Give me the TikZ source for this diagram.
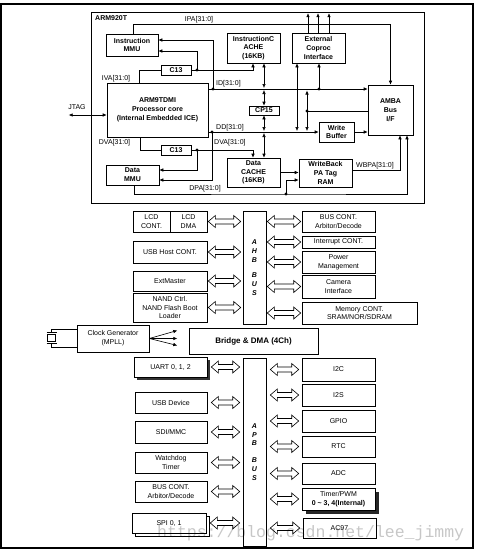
\documentclass[tikz,border=0pt]{standalone}
\usepackage{fontspec}
\setmainfont{Liberation Sans}
\newfontfamily\wmfont{Liberation Mono}
\usetikzlibrary{arrows.meta,calc,shadows}
\newcommand\bx[7][box]{\node[#1, minimum width={(#5-#3)*1pt}, minimum height={(#6-#4)*1pt}] (#2) at ({(#3+#5)/2},{(#4+#6)/2}) {#7};}
\newcommand\jdot[2]{\coordinate (#1) at (#2); \fill (#1) circle (1.6pt);}
% fat hollow double arrow: from x1 to x2 at height yy (canvas dimensions)
\newcommand\fatpoly[3]{\draw[fatarr] (#1,#3) -- (#1+7pt,#3+6pt) -- (#1+7pt,#3+2.5pt) -- (#2-7pt,#3+2.5pt) -- (#2-7pt,#3+6pt) -- (#2,#3) -- (#2-7pt,#3-6pt) -- (#2-7pt,#3-2.5pt) -- (#1+7pt,#3-2.5pt) -- (#1+7pt,#3-6pt) -- cycle;}
% left: node anchor #1 to bar anchor #2, y of #1
\newcommand\fatL[4]{\path let \p1=(#1), \p2=(#2) in \pgfextra{\xdef\fxa{\x1+#3pt}\xdef\fxb{\x2-#4pt}\xdef\fy{\y1}};\fatpoly{\fxa}{\fxb}{\fy}}
% right: bar anchor #1 to node anchor #2, y of #2
\newcommand\fatR[4]{\path let \p1=(#1), \p2=(#2) in \pgfextra{\xdef\fxa{\x1+#3pt}\xdef\fxb{\x2-#4pt}\xdef\fy{\y2}};\fatpoly{\fxa}{\fxb}{\fy}}
\begin{document}
\begin{tikzpicture}[x=1pt,y=-1pt,
 box/.style={draw, fill=white, line width=0.6pt, inner sep=0pt, align=center, font=\fontsize{7}{8.8}\selectfont},
 cbox/.style={box, font=\fontsize{7}{8.8}\selectfont\bfseries},
 busbar/.style={box, font=\fontsize{7}{9}\selectfont\bfseries\itshape},
 lbl/.style={inner sep=0pt, font=\fontsize{7}{8}\selectfont},
 ln/.style={line width=0.6pt},
 arr/.style={ln, -{Latex[length=4pt,width=3.6pt]}},
 darr/.style={ln, {Latex[length=4pt,width=3.6pt]}-{Latex[length=4pt,width=3.6pt]}},
 fatarr/.style={draw, fill=white, line width=0.6pt, line join=miter},
 shad/.style={drop shadow={shadow xshift=2.5pt, shadow yshift=-2.5pt, opacity=1, fill=black!80}}
]
\useasboundingbox (0,0) rectangle (478,552);
\draw[line width=1.2pt] (1,4) rectangle (473,548);

% ---------------- ARM920T block
\bx{arm920}{91}{12}{424}{203}{}
\node[lbl, font=\fontsize{7}{8}\selectfont\bfseries, anchor=west] (armlbl) at (95,18) {ARM920T};
\bx[cbox]{immu}{106}{34}{158}{56}{Instruction\\MMU}
\bx[cbox]{icache}{227}{33}{280}{63}{InstructionC\\ACHE\\(16KB)}
\bx[cbox]{ecop}{292}{33}{345}{63}{External\\Coproc\\Interface}
\bx[cbox]{c13a}{161}{65}{191}{75}{C13}
\bx[cbox]{arm9}{107}{83}{208}{137}{ARM9TDMI\\Processor core\\(Internal Embedded ICE)}
\bx[cbox]{cp15}{249}{106}{279}{115}{CP15}
\bx[cbox]{amba}{368}{85}{413}{135}{AMBA\\Bus\\I/F}
\bx[cbox]{wbuf}{319}{122}{354}{142}{Write\\Buffer}
\bx[cbox]{c13b}{161}{145}{191}{155}{C13}
\bx[cbox]{dmmu}{106}{165}{159}{185}{Data\\MMU}
\bx[cbox]{dcache}{227}{158}{280}{187}{Data\\CACHE\\(16KB)}
\bx[cbox]{wbram}{299}{159}{352}{187}{WriteBack\\PA Tag\\RAM}

\coordinate (idy) at (0,89);
\coordinate (ddy) at (0,132);

% IPA
\draw[arr] ($(immu.north)+(1,0)$) -- ++(0,-9) -| (amba.north);
\node[lbl] (ipa) at (199,20) {IPA[31:0]};
% coprocessor outputs
\draw[arr] ($(ecop.north)+(-10.5,0)$) -- ++(0,-19.5);
\draw[arr] ($(ecop.north)+(-0.5,0)$) -- ++(0,-19.5);
\draw[arr] ($(ecop.north)+(10.5,0)$) -- ++(0,-19.5);
% IVA
\draw[ln] ($(arm9.north)+(-18.5,0)$) |- (c13a.west);
\node[lbl] (iva) at (116,79) {IVA[31:0]};
\jdot{d1}{197,70}
\draw[ln] (c13a.east) -- (d1);
\draw[arr] (d1) -| ($(icache.south)+(-0.5,0)$);
\draw[arr] (d1) |- ($(immu.east)+(0,6)$);
% ID
\jdot{d2}{213,89}
\draw[arr] ($(arm9.east)+(0,-21)$) -- ($(amba.west)+(0,-21)$);
\draw[arr] (d2) |- ($(immu.east)+(0,-5)$);
\node[lbl, anchor=west] (id) at (216,83.5) {ID[31:0]};
\jdot{d3}{319,89}
\draw[arr] (d3) -- (d3 |- ecop.south);
% ICACHE - CP15 - DCACHE
\draw[darr] ($(icache.south)+(10.5,0)$) -- ($(cp15.north |- idy)+(0,-1)$);
\draw[darr] ($(cp15.north |- idy)+(0,1)$) -- (cp15.north);
\draw[darr] (cp15.south) -- ($(cp15.south |- ddy)+(0,-1)$);
\draw[darr] ($(cp15.south |- ddy)+(0,1)$) -- ($(dcache.north)+(10.5,0)$);
% DD
\jdot{d4}{212,132}
\draw[arr] ($(arm9.east)+(0,22)$) -- (wbuf.west);
\node[lbl, anchor=west] (dd) at (216,127.5) {DD[31:0]};
\draw[arr] (wbuf.east) -- (wbuf.east -| amba.west);
\draw[arr] (d4) |- ($(dmmu.east)+(0,5)$);
\draw[darr] ($(ecop.south)+(-21.5,0)$) -- ($(ecop.south |- ddy)+(-21.5,-1)$);
\jdot{d5}{307,111}
\draw[darr] ($(d5 |- idy)+(0,1.5)$) -- ($(d5 |- ddy)+(0,-1)$);
\draw[ln] (d5) -- (d5 -| amba.west);
% DVA
\draw[ln] ($(arm9.south)+(-17.5,0)$) |- (c13b.west);
\node[lbl] (dva1) at (114.5,143) {DVA[31:0]};
\jdot{d6}{197,150}
\draw[ln] (c13b.east) -- (d6);
\draw[arr] (d6) |- ($(dmmu.east)+(0,-5)$);
\draw[arr] (d6) -| ($(dcache.north)+(-0.5,0)$);
\node[lbl, anchor=west] (dva2) at (214,143) {DVA[31:0]};
% DPA
\jdot{d7}{286,194}
\draw[arr] ($(dmmu.south)+(1.5,0)$) |- (d7) -| ($(amba.south)+(16.5,0)$);
\node[lbl] (dpa) at (205,189) {DPA[31:0]};
\draw[arr] (d7) |- ($(wbram.west)+(0,7)$);
\draw[arr] (dcache.east) -- (dcache.east -| wbram.west);
% WBPA
\draw[arr] ($(wbram.east)+(0,-3)$) -| ($(amba.south)+(9.5,0)$);
\node[lbl] (wbpa) at (375,165.5) {WBPA[31:0]};
% JTAG
\node[lbl] (jtag) at (77,107) {JTAG};
\draw[darr] ($(arm9.west)+(-38,5)$) -- ($(arm9.west)+(0,5)$);

% ---------------- AHB
\bx{lcd1}{133}{211}{170}{232}{LCD\\CONT.}
\bx{lcd2}{170}{211}{207}{232}{LCD\\DMA}
\bx{usbh}{133}{241}{207}{263}{USB Host CONT.}
\bx{extm}{133}{271}{207}{291}{ExtMaster}
\bx{nand}{133}{293}{207}{322}{NAND Ctrl.\\NAND Flash Boot\\Loader}
\bx[busbar]{ahb}{243}{211}{266}{324}{A\\H\\B\\[6pt]B\\U\\S}
\bx{bus1}{302}{211}{375}{232}{BUS CONT.\\Arbitor/Decode}
\bx{intc}{302}{236}{375}{248}{Interrupt CONT.}
\bx{pwr}{302}{251}{375}{273}{Power\\Management}
\bx{cam}{302}{275}{375}{298}{Camera\\Interface}
\bx{mem}{302}{302}{417}{324}{Memory CONT.\\SRAM/NOR/SDRAM}

\fatL{lcd2.east}{ahb.west}{1}{2}
\fatL{usbh.east}{ahb.west}{1}{2}
\fatL{extm.east}{ahb.west}{1}{2}
\fatL{nand.east}{ahb.west}{1}{2}
\fatR{ahb.east}{bus1.west}{1}{1}
\fatR{ahb.east}{intc.west}{1}{1}
\fatR{ahb.east}{pwr.west}{1}{1}
\fatR{ahb.east}{cam.west}{1}{1}
\fatR{ahb.east}{mem.west}{1}{1}

% ---------------- Clock and bridge
\bx{clk}{77}{325}{149}{352}{Clock Generator\\(MPLL)}
\bx[box,font=\fontsize{8}{9}\selectfont\bfseries]{bridge}{189}{328}{318}{354}{Bridge \& DMA (4Ch)}
\draw[arr] (clk.east) -- ($(clk.east)+(28,-8)$);
\draw[arr] (clk.east) -- ($(clk.east)+(28,0)$);
\draw[arr] (clk.east) -- ($(clk.east)+(28,7)$);
\draw[ln] ($(clk.west)+(0,-9.5)$) -| ($(clk.west)+(-25,-6)$);
\draw[ln] ($(clk.west)+(-30,-6)$) -- ++(10,0);
\draw[ln] ($(clk.west)+(-29,-4)$) rectangle ++(8,7);
\draw[ln] ($(clk.west)+(-30,5)$) -- ++(10,0);
\draw[ln] ($(clk.west)+(0,8.5)$) -| ($(clk.west)+(-25,5)$);

% ---------------- APB
\bx[box,shad]{uart}{134}{357}{207}{377}{UART 0, 1, 2}
\bx{usbd}{135}{392}{207}{413}{USB Device}
\bx{sd}{135}{421}{207}{443}{SDI/MMC}
\bx{wdt}{135}{452}{207}{473}{Watchdog\\Timer}
\bx{bus2}{135}{481}{207}{502}{BUS CONT.\\Arbitor/Decode}
\bx[box,copy shadow={shadow xshift=3pt,shadow yshift=-3pt}]{spi}{132}{513}{206}{533}{SPI 0, 1}
\bx[busbar,font=\fontsize{7}{8.7}\selectfont\bfseries\itshape]{apb}{243}{358}{266}{546}{A\\P\\B\\[8.5pt]B\\U\\S}
\bx{i2c}{302}{358}{375}{381}{I2C}
\bx{i2s}{302}{384}{375}{406}{I2S}
\bx{gpio}{302}{410}{375}{432}{GPIO}
\bx{rtc}{302}{436}{375}{457}{RTC}
\bx{adc}{302}{463}{375}{484}{ADC}
\bx[box,drop shadow={shadow xshift=3.5pt, shadow yshift=-3.5pt, opacity=1, fill=black!85}]{timer}{302}{488}{375}{510}{Timer/PWM\\\textbf{0 \textasciitilde{} 3, 4(Internal)}}
\bx{ac97}{303}{518}{376}{538}{AC97}

\fatL{uart.east}{apb.west}{4}{3}
\fatL{usbd.east}{apb.west}{4}{3}
\fatL{sd.east}{apb.west}{4}{3}
\fatL{wdt.east}{apb.west}{4}{3}
\fatL{bus2.east}{apb.west}{4}{3}
\fatL{spi.east}{apb.west}{4}{3}
\fatR{apb.east}{i2c.west}{4}{3}
\fatR{apb.east}{i2s.west}{4}{3}
\fatR{apb.east}{gpio.west}{4}{3}
\fatR{apb.east}{rtc.west}{4}{3}
\fatR{apb.east}{adc.west}{4}{3}
\fatR{apb.east}{timer.west}{4}{3}
\fatR{apb.east}{ac97.west}{4}{3}

% watermark
\node[inner sep=0pt, anchor=base west, font=\wmfont\fontsize{16.5}{18}\selectfont, text=black, text opacity=0.22] (wm) at (157,537) {https://blog.csdn.net/lee\_jimmy};
\end{tikzpicture}
\end{document}
